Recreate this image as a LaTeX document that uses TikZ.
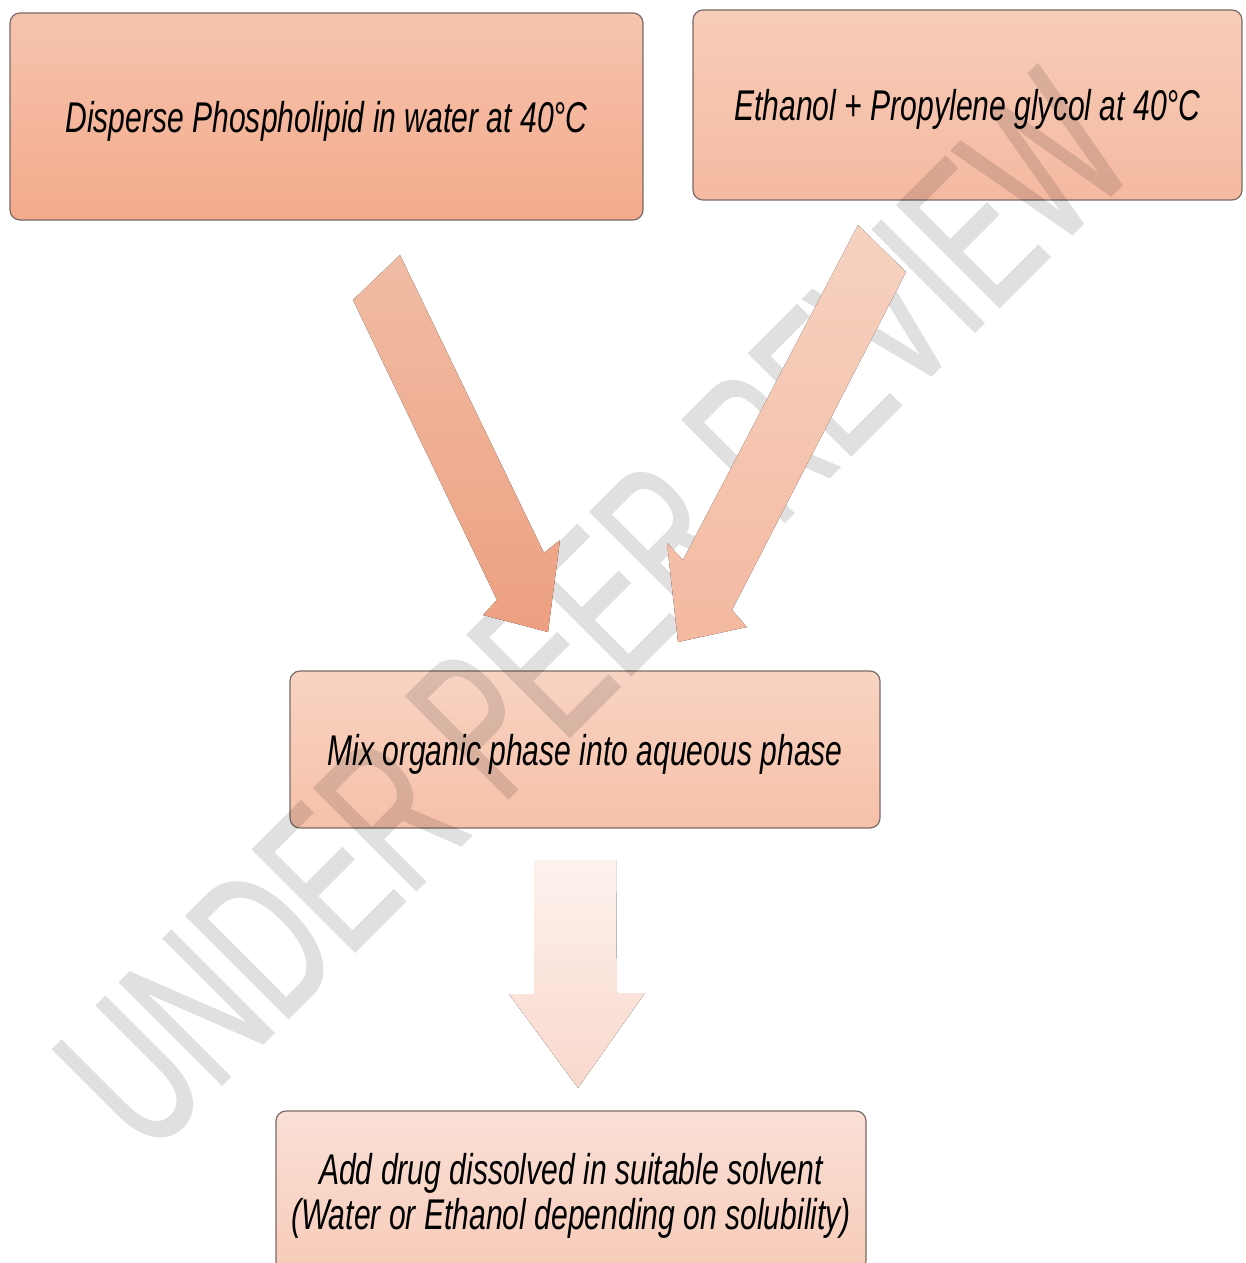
\documentclass[tikz,border=0pt]{standalone}
\usepackage{fontspec}
\setmainfont{Liberation Sans}
\newfontfamily\labfont[FakeStretch=0.70]{Liberation Sans}
\newfontfamily\wmfont[FakeStretch=0.62,FakeBold=1]{Liberation Sans}
\definecolor{bordc}{HTML}{7A6A66}
\definecolor{bAtop}{HTML}{F5C4AE}\definecolor{bAbot}{HTML}{F4AA8B}
\definecolor{bBtop}{HTML}{F7CDB9}\definecolor{bBbot}{HTML}{F5B9A0}
\definecolor{bCtop}{HTML}{F8D4C3}\definecolor{bCbot}{HTML}{F6C0A8}
\definecolor{bDtop}{HTML}{FAE0D6}\definecolor{bDbot}{HTML}{F7CBB9}
\definecolor{aAtop}{HTML}{F0BCA4}\definecolor{aAbot}{HTML}{EEA081}
\definecolor{aBtop}{HTML}{F6D2C1}\definecolor{aBbot}{HTML}{F4B9A0}
\definecolor{aCtop}{HTML}{FDF2EE}\definecolor{aCbot}{HTML}{F9D8CC}
\begin{document}
\begin{tikzpicture}[x=1pt,y=-1pt,
  stepbox/.style={draw=bordc, line width=1.2pt, rounded corners=10pt, inner sep=0pt,
    align=center, text depth=0pt,
    font=\labfont\itshape\fontsize{43}{45}\selectfont},
  blockarrow/.style={draw=none}]
\useasboundingbox (0,0) rectangle (1245,1263);
\clip (0,0) rectangle (1245,1263);
% boxes
\node[stepbox, top color=bAtop, bottom color=bAbot, minimum width=633pt, minimum height=207pt]
  (disperse) at (326.5,116.5) {Disperse Phospholipid in water at 40°C};
\node[stepbox, top color=bBtop, bottom color=bBbot, minimum width=549pt, minimum height=190pt]
  (ethanol) at (967.5,105) {Ethanol + Propylene glycol at 40°C};
\node[stepbox, top color=bCtop, bottom color=bCbot, minimum width=590pt, minimum height=157pt]
  (mix) at (585,749.5) {Mix organic phase into aqueous phase};
\node[stepbox, top color=bDtop, bottom color=bDbot, minimum width=590pt, minimum height=160pt]
  (drug) at (571,1191) {Add drug dissolved in suitable solvent\\(Water or Ethanol depending on solubility)};
% watermark
\begin{scope}[transparency group, opacity=0.12]
\node[rotate=45, inner sep=0pt, text=black,
  font=\wmfont\fontsize{210}{210}\selectfont] (wm) at (594,612) {UNDER PEER REVIEW};
\end{scope}
% block arrows
\fill[blockarrow, top color=aAtop, bottom color=aAbot]
  (353,300) -- (400,255) -- (544,553) -- (560,540) -- (548,632) -- (483,615) -- (497,600) -- cycle;
\fill[blockarrow, top color=aBtop, bottom color=aBbot]
  (858,225) -- (906,272) -- (732,610) -- (747,627) -- (678,642) -- (667,543) -- (683,560) -- cycle;
\fill[blockarrow, top color=aCtop, bottom color=aCbot]
  (534,860) -- (616,860) -- (617,993) -- (645,993) -- (578,1088) -- (509,994) -- (534,994) -- cycle;
\end{tikzpicture}
\end{document}
